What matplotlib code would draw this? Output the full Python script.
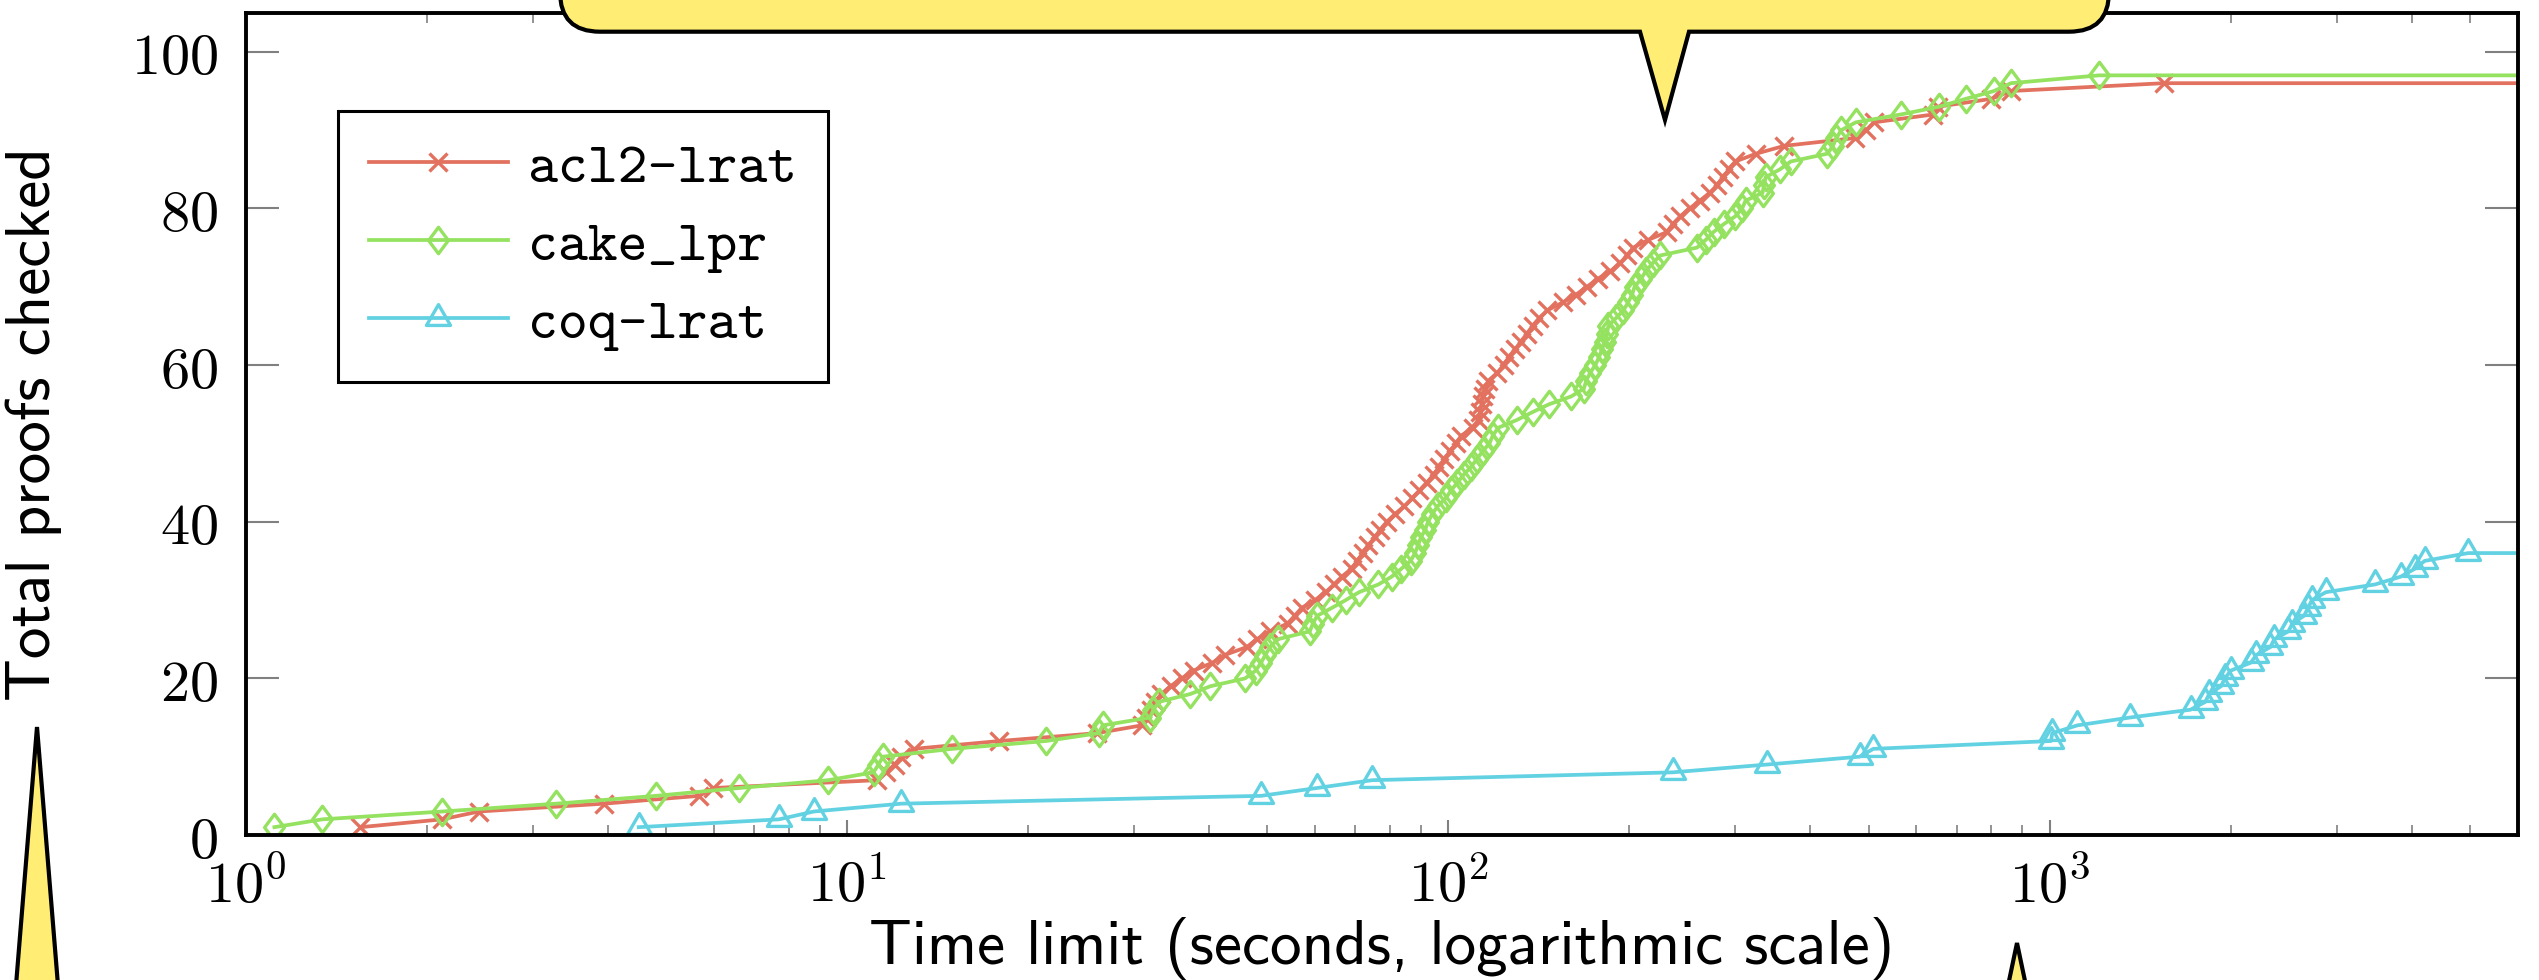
import matplotlib
matplotlib.use("Agg")
import matplotlib.pyplot as plt
from matplotlib.path import Path
from matplotlib.patches import PathPatch, Polygon

# proofs checked (cumulative) against time limit in seconds
acl2_time = [1.55, 2.12, 2.44, 3.94, 5.67, 5.99, 11.2, 11.6, 12.0, 12.3,
             12.9, 17.9, 26.0, 30.9, 31.4, 32.0, 32.5, 33.3, 34.5, 36.0,
             37.7, 40.5, 42.5, 46.2, 48.0, 50.5, 54.0, 55.5, 57.0, 60.0,
             62.5, 64.5, 66.5, 69.0, 70.5, 72.0, 73.5, 75.5, 77.0, 79.0,
             81.5, 84.5, 87.0, 89.5, 92.0, 94.5, 96.5, 98.5, 100.5, 103.0,
             105.0, 110.0, 112.0, 113.0, 113.5, 114.0, 115.0, 116.5, 120.5, 123.5,
             126.0, 129.0, 132.0, 135.0, 138.0, 141.5, 146.0, 155.0, 163.0, 170.0,
             177.0, 186.0, 193.0, 198.0, 203.0, 215.0, 231.0, 236.0, 243.0, 252.0,
             262.0, 272.0, 280.0, 286.0, 293.0, 300.0, 325.0, 362.0, 475.0, 495.0,
             510.0, 640.0, 652.0, 800.0, 862.0, 1550.0]
acl2_count = [1, 2, 3, 4, 5, 6, 7, 8, 9, 10,
              11, 12, 13, 14, 15, 16, 17, 18, 19, 20,
              21, 22, 23, 24, 25, 26, 27, 28, 29, 30,
              31, 32, 33, 34, 35, 36, 37, 38, 39, 40,
              41, 42, 43, 44, 45, 46, 47, 48, 49, 50,
              51, 52, 53, 54, 55, 56, 57, 58, 59, 60,
              61, 62, 63, 64, 65, 66, 67, 68, 69, 70,
              71, 72, 73, 74, 75, 76, 77, 78, 79, 80,
              81, 82, 83, 84, 85, 86, 87, 88, 89, 90,
              91, 92, 93, 94, 95, 96]

cake_time = [1.115, 1.34, 2.12, 3.28, 4.81, 6.61, 9.3, 11.06, 11.27, 11.47,
             14.94, 21.4, 26.2, 26.6, 31.9, 32.3, 33.0, 37.2, 40.2, 45.9,
             47.8, 48.8, 49.6, 50.5, 52.0, 58.8, 59.5, 60.5, 64.0, 67.5,
             71.0, 76.5, 80.5, 83.5, 86.5, 88.0, 89.0, 90.0, 91.5, 92.5,
             94.0, 96.0, 99.0, 101.0, 103.5, 106.0, 109.0, 111.5, 114.0, 117.0,
             118.5, 121.0, 130.0, 138.0, 147.0, 160.0, 168.0, 169.5, 172.0, 175.5,
             178.0, 180.0, 182.0, 183.5, 184.5, 190.0, 195.5, 199.0, 202.0, 204.0,
             209.0, 213.0, 218.5, 225.0, 259.0, 268.0, 276.0, 287.0, 300.0, 308.0,
             312.0, 333.0, 335.0, 337.0, 356.0, 371.0, 427.0, 436.0, 442.0, 450.0,
             476.0, 565.0, 655.0, 725.0, 808.0, 862.0, 1208.0]
cake_count = [1, 2, 3, 4, 5, 6, 7, 8, 9, 10,
              11, 12, 13, 14, 15, 16, 17, 18, 19, 20,
              21, 22, 23, 24, 25, 26, 27, 28, 29, 30,
              31, 32, 33, 34, 35, 36, 37, 38, 39, 40,
              41, 42, 43, 44, 45, 46, 47, 48, 49, 50,
              51, 52, 53, 54, 55, 56, 57, 58, 59, 60,
              61, 62, 63, 64, 65, 66, 67, 68, 69, 70,
              71, 72, 73, 74, 75, 76, 77, 78, 79, 80,
              81, 82, 83, 84, 85, 86, 87, 88, 89, 90,
              91, 92, 93, 94, 95, 96, 97]

coq_time = [4.5, 7.7, 8.8, 12.3, 48.8, 60.4, 74.7, 236.0, 339.0, 483.0,
            509.0, 1005.0, 1010.0, 1112.0, 1360.0, 1715.0, 1815.0, 1842.0, 1928.0, 1956.0,
            2002.0, 2160.0, 2208.0, 2329.0, 2364.0, 2495.0, 2533.0, 2650.0, 2690.0, 2731.0,
            2879.0, 3480.0, 3840.0, 4050.0, 4205.0, 4970.0]
coq_count = [1, 2, 3, 4, 5, 6, 7, 8, 9, 10,
             11, 12, 13, 14, 15, 16, 17, 18, 19, 20,
             21, 22, 23, 24, 25, 26, 27, 28, 29, 30,
             31, 32, 33, 34, 35, 36]

time_limit = 6000
x_ticks = [1, 10, 100, 1000]
x_ticklabels = [r"$10^{0}$", r"$10^{1}$", r"$10^{2}$", r"$10^{3}$"]
y_ticks = [0, 20, 40, 60, 80, 100]
y_ticklabels = [r"$0$", r"$20$", r"$40$", r"$60$", r"$80$", r"$100$"]

W, H = 2539, 980
plt.rcParams["mathtext.fontset"] = "cm"

# pgfplots style marks
diamond = Path([(0, 1), (0.75, 0), (0, -1), (-0.75, 0), (0, 1)],
               [Path.MOVETO, Path.LINETO, Path.LINETO, Path.LINETO, Path.CLOSEPOLY])
triangle = Path([(0, 1), (-0.866, -0.5), (0.866, -0.5), (0, 1)],
                [Path.MOVETO, Path.LINETO, Path.LINETO, Path.CLOSEPOLY])

series = [
    ("acl2-lrat", acl2_time, acl2_count, "#E2725F", "x", 12.5),
    ("cake_lpr", cake_time, cake_count, "#94E25F", diamond, 19),
    ("coq-lrat", coq_time, coq_count, "#62D2E2", triangle, 20),
]

fig = plt.figure(figsize=(W / 100, H / 100), dpi=100)
ax = fig.add_axes([246 / W, 1 - 835 / H, (2517.5 - 246) / W, (835 - 12.7) / H])

for name, t, n, col, mk, ms in series:
    xs = t + [time_limit]
    ys = n + [n[-1]]
    ax.plot(xs, ys, color=col, lw=2.7, marker=mk, ms=ms, mew=2.4,
            mfc="none", mec=col, markevery=list(range(len(t))), label=name)

ax.set_xscale("log")
ax.set_xlim(1, time_limit)
ax.set_ylim(0, 105)
ax.set_xticks(x_ticks)
ax.set_xticklabels(x_ticklabels)
ax.set_yticks(y_ticks)
ax.set_yticklabels(y_ticklabels)

ax.tick_params(axis="y", which="major", direction="in", length=24, width=1.5,
               color="#808080", left=True, right=True, pad=20, labelsize=42)
ax.tick_params(axis="y", which="minor", left=False, right=False)
ax.tick_params(axis="x", which="major", direction="in", length=11, width=1.5,
               color="#808080", top=True, bottom=True, pad=16, labelsize=42)
ax.tick_params(axis="x", which="minor", direction="in", length=7, width=1.2,
               color="#808080", top=True, bottom=True)
for s in ax.spines.values():
    s.set_linewidth(2.8)
    s.set_color("black")

ax.set_xlabel("Time limit (seconds, logarithmic scale)", family="cmss10",
              fontsize=45.5, va="center")
ax.xaxis.set_label_coords(0.5, -0.138)
ax.set_ylabel("Total proofs checked", family="cmss10", fontsize=45.5, va="center")
ax.yaxis.set_label_coords(-0.0935, 0.5)

leg = ax.legend(loc="upper left", bbox_to_anchor=(0.0403, 0.8805), borderaxespad=0,
                prop={"family": "cmtt10", "size": 41}, numpoints=1,
                handlelength=2.44, handletextpad=0.35, labelspacing=0.44,
                borderpad=0.55, fancybox=False, framealpha=1, edgecolor="black")
leg.get_frame().set_linewidth(2.2)


def px(x, y):
    return (x / W, 1 - y / H)


# speech-bubble callouts
yellow = "#FFEE73"
box = [(560, -60), (560, -8.3), (560, 31.7), (600, 31.7), (1640, 31.7), (1665, 120),
       (1689, 31.7), (2069, 31.7), (2109, 31.7), (2109, -8.3), (2109, -60), (560, -60)]
codes = [Path.MOVETO, Path.LINETO, Path.CURVE3, Path.CURVE3, Path.LINETO, Path.LINETO,
         Path.LINETO, Path.LINETO, Path.CURVE3, Path.CURVE3, Path.LINETO, Path.CLOSEPOLY]
fig.add_artist(PathPatch(Path([px(*v) for v in box], codes), transform=fig.transFigure,
                         facecolor=yellow, edgecolor="black", lw=3, joinstyle="miter",
                         zorder=5))
fig.add_artist(Polygon([px(37, 727), px(14, 1010), px(60, 1010)], closed=True,
                       transform=fig.transFigure, facecolor=yellow, edgecolor="black",
                       lw=3, joinstyle="miter", zorder=5))
fig.add_artist(Polygon([px(2017, 943), px(2005, 1000), px(2029, 1000)], closed=True,
                       transform=fig.transFigure, facecolor=yellow, edgecolor="black",
                       lw=3, joinstyle="miter", zorder=5))

fig.savefig("out.png", dpi=100)
